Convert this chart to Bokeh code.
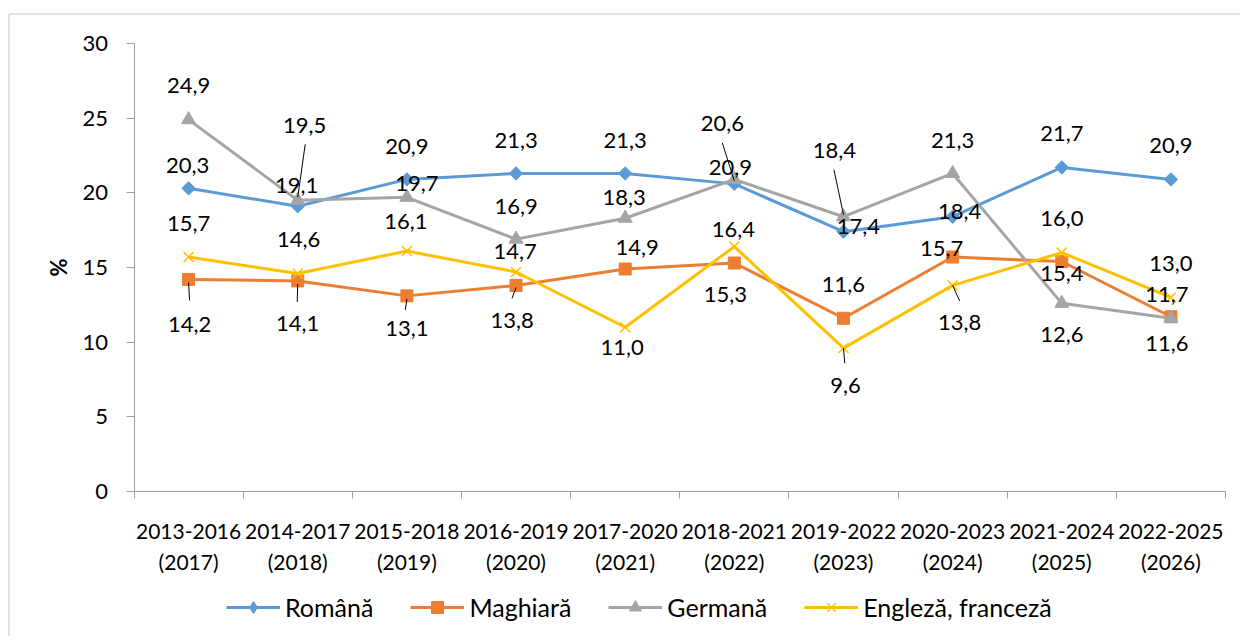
import math
from bokeh.plotting import figure
from bokeh.models import (Range1d, LinearAxis, FixedTicker, Legend, LegendItem,
                          ColumnDataSource)
from bokeh.core.properties import value
from bokeh.embed import file_html
from bokeh.resources import INLINE

# ---------------- data ----------------
cat_line1 = ["2013-2016", "2014-2017", "2015-2018", "2016-2019", "2017-2020",
             "2018-2021", "2019-2022", "2020-2023", "2021-2024", "2022-2025"]
cat_line2 = ["(2017)", "(2018)", "(2019)", "(2020)", "(2021)",
             "(2022)", "(2023)", "(2024)", "(2025)", "(2026)"]
romana = [20.3, 19.1, 20.9, 21.3, 21.3, 20.6, 17.4, 18.4, 21.7, 20.9]
maghiara = [14.2, 14.1, 13.1, 13.8, 14.9, 15.3, 11.6, 15.7, 15.4, 11.7]
germana = [24.9, 19.5, 19.7, 16.9, 18.3, 20.9, 18.4, 21.3, 12.6, 11.6]
engleza = [15.7, 14.6, 16.1, 14.7, 11.0, 16.4, 9.6, 13.8, 16.0, 13.0]
series_names = ["Română", "Maghiară", "Germană", "Engleză, franceză"]
y_ticks = [0, 5, 10, 15, 20, 25, 30]

# ---------------- styling / label placement (screen px, down positive) ----------------
FONT = "Lato"
colors = ["#5B9BD5", "#ED7D31", "#A5A5A5", "#FFC000"]
label_offsets = [
    [(-1, -23), (-1, -21), (0, -33), (0, -33), (0, -33), (-12, -60), (15, -5), (7, -5), (0, -34), (0, -34)],
    [(1, 45), (0, 43), (0, 33), (-4, 35), (12, -21), (-9, 31), (0, -34), (-11, -9), (0, 12), (-4, -22)],
    [(0, -34), (7, -75), (10, -14), (0, -33), (-1, -21), (-4, -12), (-9, -66), (0, -33), (0, 31), (-4, 25)],
    [(0, -34), (1, -34), (-1, -30), (-1, -20), (-3, 20), (-1, -17), (2, 37), (7, 37), (0, -34), (0, -34)],
]
# leader lines: (series index, category index, start px offset, end px offset)
leaders = [
    (2, 1, (7.5, -56), (0, -3)),
    (0, 5, (-12, -41), (0, -3)),
    (2, 6, (-9.5, -47), (0, -2)),
    (1, 0, (1, 21), (0, 3)),
    (1, 1, (-0.5, 21), (0, 3)),
    (1, 2, (-1.5, 14), (0, 3)),
    (1, 3, (-4, 13), (0, 2)),
    (3, 6, (1.3, 15), (0, 0)),
    (3, 7, (7, 15.5), (0, 0)),
]

# ---------------- layout (pixels on the canvas) ----------------
W, H = 1240, 636
X0, X1 = 133.5, 1225.0      # pixel of first / last category boundary
Y0, Y30 = 491.0, 43.0       # pixel of y=0 / y=30
n = len(cat_line1)
px_x = (X1 - X0) / n
px_y = (Y0 - Y30) / 30.0

def dx(px):
    return (px - X0) / px_x

def dy(py):
    return (Y0 - py) / px_y

p = figure(width=W, height=H, output_backend="svg", toolbar_location=None, title=None,
           x_range=Range1d(dx(0), dx(W)), y_range=Range1d(dy(H), dy(0)),
           x_axis_type=None, y_axis_type=None,
           min_border=0, min_border_left=0, min_border_right=0,
           min_border_top=0, min_border_bottom=0)
p.outline_line_color = None
p.background_fill_color = "white"
p.border_fill_color = "white"

centers = [i + 0.5 for i in range(n)]
bounds = [float(i) for i in range(n + 1)]
AX = "#A0A0A0"

# y axis drawn at x = 0
ya = LinearAxis(fixed_location=0, bounds=(0, 30), ticker=FixedTicker(ticks=y_ticks))
ya.axis_line_color = AX
ya.major_tick_line_color = AX
ya.major_tick_out = 8
ya.major_tick_in = 0
ya.minor_tick_line_color = None
ya.major_label_standoff = 18
ya.major_label_text_font = FONT
ya.major_label_text_font_size = "22px"
ya.major_label_text_color = "black"
ya.axis_label = "%"
ya.axis_label_text_font = FONT
ya.axis_label_text_font_size = "22px"
ya.axis_label_text_font_style = "bold"
ya.axis_label_text_color = "black"
ya.axis_label_standoff = 8
p.add_layout(ya, "left")

# x axis drawn at y = 0 (first line of category labels)
xa = LinearAxis(fixed_location=0, bounds=(0, n),
                ticker=FixedTicker(ticks=centers, minor_ticks=bounds),
                major_label_overrides={c: t for c, t in zip(centers, cat_line1)})
xa.axis_line_color = AX
xa.major_tick_line_color = None
xa.major_tick_out = 0
xa.major_tick_in = 0
xa.minor_tick_line_color = AX
xa.minor_tick_out = 7
xa.minor_tick_in = 0
xa.major_label_standoff = 25
xa.major_label_text_font = FONT
xa.major_label_text_font_size = "21px"
xa.major_label_text_color = "black"
p.add_layout(xa, "below")

# second line of category labels
xb = LinearAxis(fixed_location=0, bounds=(0, n), ticker=FixedTicker(ticks=centers),
                major_label_overrides={c: t for c, t in zip(centers, cat_line2)})
xb.axis_line_color = None
xb.major_tick_line_color = None
xb.minor_tick_line_color = None
xb.major_tick_out = 0
xb.major_tick_in = 0
xb.major_label_standoff = 57
xb.major_label_text_font = FONT
xb.major_label_text_font_size = "21px"
xb.major_label_text_color = "black"
p.add_layout(xb, "below")

# outer chart-area border (left and top edges visible)
p.segment([dx(8.5), dx(8.5)], [dy(13.5), dy(13.5)], [dx(8.5), dx(W + 5)], [dy(H + 5), dy(13.5)],
          line_color="#C4C4C4", line_width=1)

all_series = [romana, maghiara, germana, engleza]
markers = [("square", 9.5, math.pi / 4), ("square", 12, 0), ("triangle", 14, 0), ("x", 14, 0)]
legend_markers = ["diamond", "square", "triangle", "x"]
nan = float("nan")

legend_items = []
for k, vals in enumerate(all_series):
    src = ColumnDataSource(dict(x=centers, y=vals))
    ln = p.line("x", "y", source=src, line_color=colors[k], line_width=3)
    mk, sz, ang = markers[k]
    if mk == "x":
        sc = p.scatter("x", "y", source=src, marker=mk, size=sz, line_color=colors[k], line_width=1.5)
    else:
        sc = p.scatter("x", "y", source=src, marker=mk, size=sz, angle=ang,
                       fill_color=colors[k], line_color=colors[k], line_width=1)
    # marker used only for the legend swatch (its single point is NaN, so not drawn)
    lg = p.scatter(x=[nan], y=[nan], marker=legend_markers[k], size=sz,
                   fill_color=colors[k], line_color=colors[k],
                   line_width=1.5 if legend_markers[k] == "x" else 1)
    legend_items.append(LegendItem(label=series_names[k], renderers=[ln, lg]))

# leader lines
lx0, ly0, lx1, ly1 = [], [], [], []
for s, i, st, en in leaders:
    v = all_series[s][i]
    lx0.append(centers[i] + st[0] / px_x)
    ly0.append(v - st[1] / px_y)
    lx1.append(centers[i] + en[0] / px_x)
    ly1.append(v - en[1] / px_y)
p.segment(lx0, ly0, lx1, ly1, line_color="black", line_width=1)

# data labels
for k, vals in enumerate(all_series):
    src = ColumnDataSource(dict(
        x=centers, y=vals,
        t=[f"{v:.1f}".replace(".", ",") for v in vals],
        ox=[o[0] for o in label_offsets[k]],
        oy=[o[1] for o in label_offsets[k]],
    ))
    p.text("x", "y", text="t", source=src, x_offset="ox", y_offset="oy",
           text_align="center", text_baseline="middle",
           text_font=value(FONT), text_font_size="22px", text_color="black")

legend = Legend(items=legend_items, orientation="horizontal", location=(226, 14),
                glyph_width=54, glyph_height=30, label_standoff=5, spacing=37,
                padding=0, margin=0, border_line_color=None, background_fill_alpha=0,
                label_text_font=FONT, label_text_font_size="25px", label_text_color="black")
p.add_layout(legend, "center")

open("out.html", "w").write(file_html(p, INLINE))
